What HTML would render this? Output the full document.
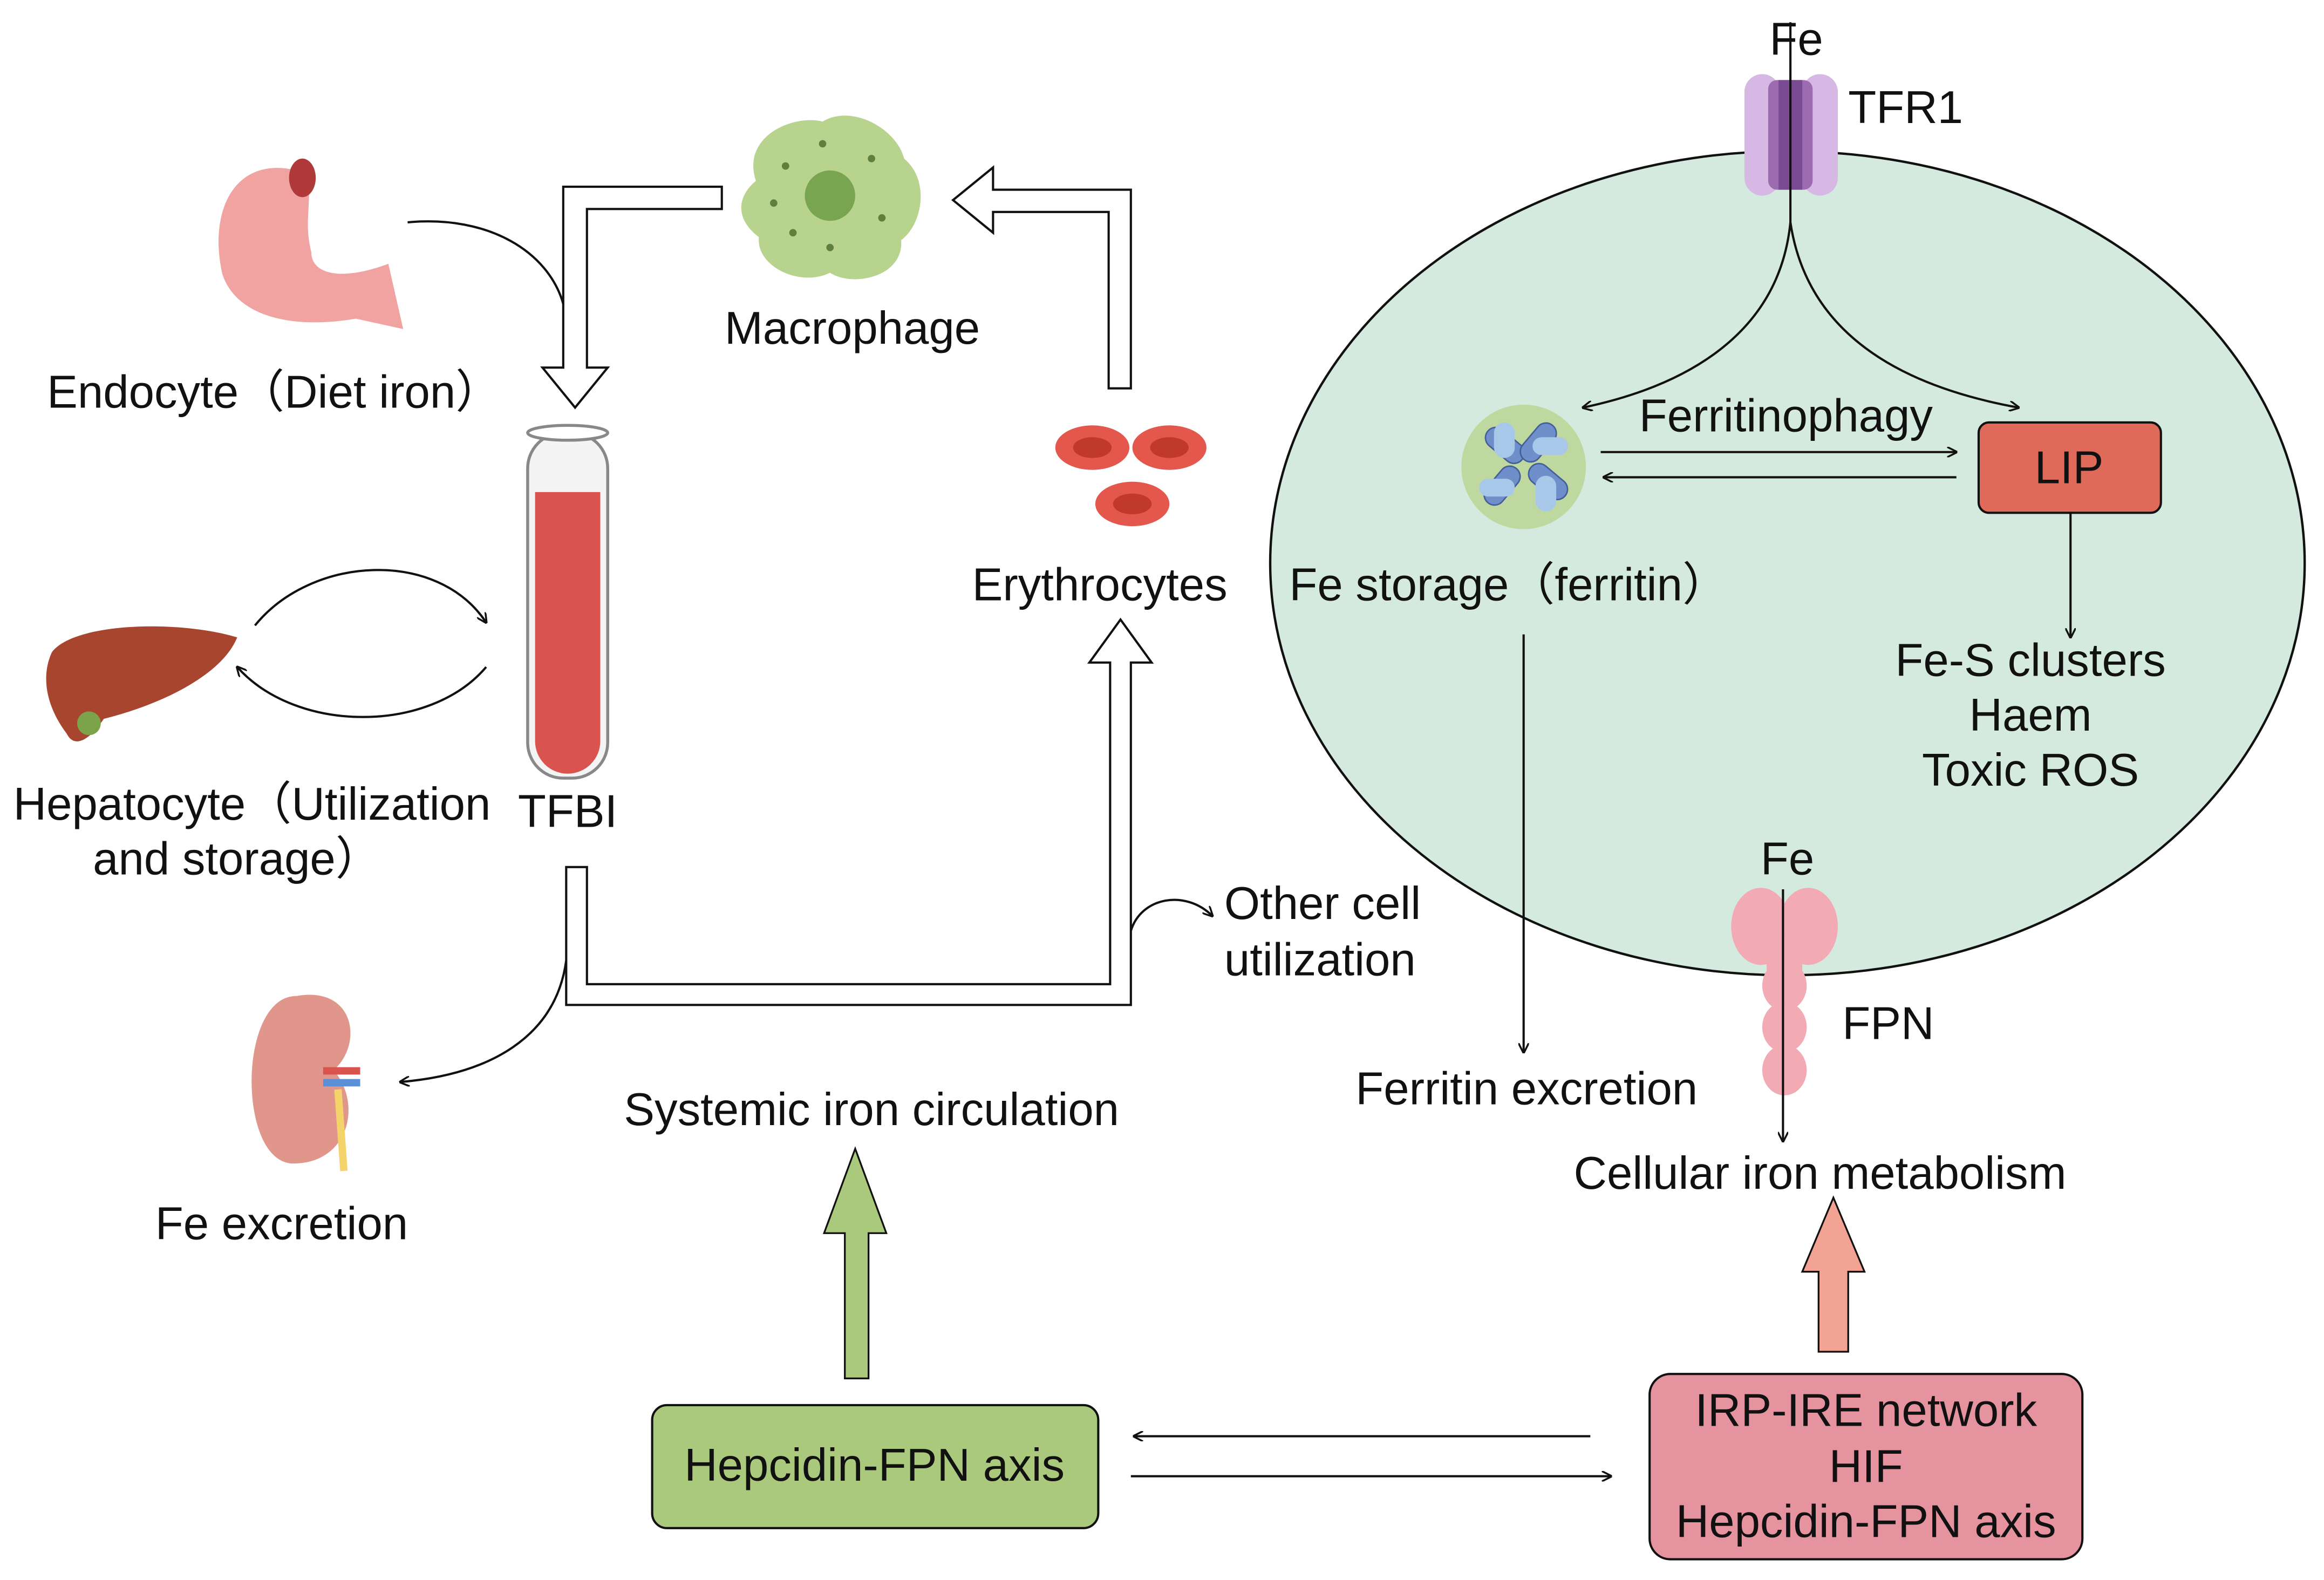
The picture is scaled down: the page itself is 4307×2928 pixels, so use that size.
<!DOCTYPE html>
<html><head><meta charset="utf-8"><style>
html,body{margin:0;padding:0;background:#fff;}
svg{display:block;}
text{font-family:"Liberation Sans","Noto Sans CJK SC",sans-serif;fill:#111;}
</style></head><body>
<svg width="4307" height="2928" viewBox="0 0 1568 1066" xmlns="http://www.w3.org/2000/svg">
<defs>
<marker id="a" viewBox="0 0 10 10" refX="9" refY="5" markerWidth="7" markerHeight="7" orient="auto-start-reverse" markerUnits="userSpaceOnUse">
<path d="M0,0 L10,5 L0,10" fill="none" stroke="#111" stroke-width="1.8"/></marker>
</defs>
<rect width="1568" height="1066" fill="#fff"/>

<ellipse cx="1206" cy="380" rx="349" ry="278" fill="#d5eadf" stroke="#111" stroke-width="1.6"/>

<g>
<rect x="1177" y="50" width="24" height="82" rx="12" fill="#d7b7e3"/>
<rect x="1216" y="50" width="24" height="82" rx="12" fill="#d7b7e3"/>
<rect x="1193" y="54" width="30" height="74" rx="6" fill="#9c6bb0"/>
<rect x="1200" y="54" width="16" height="74" fill="#7a4a92"/>
</g>
<line x1="1208" y1="15" x2="1208" y2="150" stroke="#111" stroke-width="1.5"/>
<text x="1212" y="37" font-size="31" text-anchor="middle">Fe</text>
<text x="1247" y="83" font-size="31">TFR1</text>
<path d="M1208,150 C1200,230 1130,262 1068,275" fill="none" stroke="#111" stroke-width="1.5" marker-end="url(#a)"/>
<path d="M1208,150 C1220,230 1290,262 1362,275" fill="none" stroke="#111" stroke-width="1.5" marker-end="url(#a)"/>

<g transform="translate(1028,315)">
<circle r="42" fill="#b9d38e" opacity="0.8"/>
<g fill="#6e8fc9" stroke="#44609a" stroke-width="1">
<rect x="-34" y="-10" width="30" height="14" rx="7" transform="rotate(40)"/>
<rect x="4" y="-10" width="30" height="14" rx="7" transform="rotate(40)"/>
<rect x="-34" y="-10" width="30" height="14" rx="7" transform="rotate(-50)"/>
<rect x="4" y="-10" width="30" height="14" rx="7" transform="rotate(-50)"/>
</g>
<g fill="#a8c8ea"><rect x="-20" y="-30" width="14" height="24" rx="7"/><rect x="8" y="6" width="14" height="24" rx="7"/><rect x="-30" y="8" width="24" height="12" rx="6"/><rect x="6" y="-20" width="24" height="12" rx="6"/></g>
</g>
<text x="1205" y="291" font-size="31" text-anchor="middle">Ferritinophagy</text>
<line x1="1080" y1="305" x2="1320" y2="305" stroke="#111" stroke-width="1.5" marker-end="url(#a)"/>
<line x1="1320" y1="322" x2="1082" y2="322" stroke="#111" stroke-width="1.5" marker-end="url(#a)"/>
<rect x="1335" y="285" width="123" height="61" rx="7" fill="#e06a5a" stroke="#111" stroke-width="1.5"/>
<text x="1396" y="326" font-size="31" text-anchor="middle">LIP</text>
<line x1="1397" y1="346" x2="1397" y2="430" stroke="#111" stroke-width="1.5" marker-end="url(#a)"/>
<text x="1370" y="456" font-size="31" text-anchor="middle">Fe-S clusters</text>
<text x="1370" y="493" font-size="31" text-anchor="middle">Haem</text>
<text x="1370" y="530" font-size="31" text-anchor="middle">Toxic ROS</text>
<text x="1018" y="405" font-size="31" text-anchor="middle">Fe storage（ferritin）</text>
<line x1="1028" y1="428" x2="1028" y2="710" stroke="#111" stroke-width="1.5" marker-end="url(#a)"/>
<text x="1030" y="745" font-size="31" text-anchor="middle">Ferritin excretion</text>

<g fill="#f2aab5">
<ellipse cx="1188" cy="625" rx="20" ry="26"/><ellipse cx="1220" cy="625" rx="20" ry="26"/>
<rect x="1192" y="630" width="24" height="30" fill="#f2aab5"/>
<ellipse cx="1204" cy="665" rx="15" ry="17"/>
<ellipse cx="1204" cy="693" rx="15" ry="17"/>
<ellipse cx="1204" cy="722" rx="15" ry="17"/>
</g>
<text x="1206" y="590" font-size="31" text-anchor="middle">Fe</text>
<line x1="1203" y1="600" x2="1203" y2="770" stroke="#111" stroke-width="1.5" marker-end="url(#a)"/>
<text x="1243" y="701" font-size="31">FPN</text>
<text x="1228" y="802" font-size="31" text-anchor="middle">Cellular iron metabolism</text>

<path d="M1227,912 L1227,858 L1216,858 L1237,808 L1258,858 L1247,858 L1247,912 Z" fill="#f3a393" stroke="#111" stroke-width="1.2"/>
<rect x="1113" y="927" width="292" height="125" rx="14" fill="#e4939f" stroke="#111" stroke-width="1.5"/>
<text x="1259" y="962" font-size="31" text-anchor="middle">IRP-IRE network</text>
<text x="1259" y="1000" font-size="31" text-anchor="middle">HIF</text>
<text x="1259" y="1037" font-size="31" text-anchor="middle">Hepcidin-FPN axis</text>

<rect x="440" y="948" width="301" height="83" rx="10" fill="#abc97c" stroke="#111" stroke-width="1.5"/>
<text x="590" y="999" font-size="31" text-anchor="middle">Hepcidin-FPN axis</text>
<line x1="1073" y1="969" x2="765" y2="969" stroke="#111" stroke-width="1.5" marker-end="url(#a)"/>
<line x1="763" y1="996" x2="1087" y2="996" stroke="#111" stroke-width="1.5" marker-end="url(#a)"/>
<path d="M570,930 L570,832 L556,832 L577,775 L598,832 L586,832 L586,930 Z" fill="#abc97c" stroke="#111" stroke-width="1.2"/>
<text x="588" y="759" font-size="31" text-anchor="middle">Systemic iron circulation</text>

<path d="M487,126 L380,126 L380,248 L366,248 L388,275 L410,248 L396,248 L396,141 L487,141 Z" fill="#fff" stroke="#111" stroke-width="1.5"/>
<path d="M748,262 L748,143 L670,143 L670,157 L643,135 L670,113 L670,128 L763,128 L763,262 Z" fill="#fff" stroke="#111" stroke-width="1.5"/>
<path d="M382,585 L382,678 L763,678 L763,447 L777,447 L756,418 L735,447 L749,447 L749,664 L396,664 L396,585 Z" fill="#fff" stroke="#111" stroke-width="1.5"/>

<path d="M275,150 C330,145 370,170 380,205" fill="none" stroke="#111" stroke-width="1.5"/>
<path d="M382,648 C375,700 330,725 270,730" fill="none" stroke="#111" stroke-width="1.5" marker-end="url(#a)"/>
<path d="M763,628 C770,605 800,600 818,618" fill="none" stroke="#111" stroke-width="1.5" marker-end="url(#a)"/>
<path d="M172,422 C210,375 295,370 328,420" fill="none" stroke="#111" stroke-width="1.5" marker-end="url(#a)"/>
<path d="M328,450 C290,495 200,495 160,450" fill="none" stroke="#111" stroke-width="1.5" marker-end="url(#a)"/>

<rect x="356" y="292" width="54" height="233" rx="24" fill="#f4f4f4" stroke="#888" stroke-width="2"/>
<ellipse cx="383" cy="292" rx="27" ry="5" fill="#fff" stroke="#888" stroke-width="2"/>
<path d="M361,332 L405,332 L405,500 A22,22 0 0 1 361,500 Z" fill="#d9534f"/>

<g transform="translate(560,132)">
<path d="M-50,-10 C-60,-40 -25,-55 -5,-50 C15,-62 45,-45 50,-25 C68,-10 62,20 48,30 C50,55 15,62 0,52 C-20,62 -50,48 -48,28 C-65,15 -62,0 -50,-10 Z" fill="#b7d38e"/>
<circle r="17" fill="#79a550"/>
<g fill="#5f7f3f"><circle cx="-30" cy="-20" r="2.5"/><circle cx="28" cy="-25" r="2.5"/><circle cx="35" cy="15" r="2.5"/><circle cx="-25" cy="25" r="2.5"/><circle cx="0" cy="35" r="2.5"/><circle cx="-5" cy="-35" r="2.5"/><circle cx="-38" cy="5" r="2.5"/></g>
</g>
<text x="575" y="232" font-size="31" text-anchor="middle">Macrophage</text>

<g fill="#e4574c"><ellipse cx="737" cy="302" rx="25" ry="15"/><ellipse cx="789" cy="302" rx="25" ry="15"/><ellipse cx="764" cy="340" rx="25" ry="15"/></g>
<g fill="#c0392b"><ellipse cx="737" cy="302" rx="13" ry="7"/><ellipse cx="789" cy="302" rx="13" ry="7"/><ellipse cx="764" cy="340" rx="13" ry="7"/></g>
<text x="742" y="405" font-size="31" text-anchor="middle">Erythrocytes</text>
<text x="826" y="620" font-size="31">Other cell</text>
<text x="826" y="658" font-size="31">utilization</text>

<path d="M200,115 C160,105 140,140 150,185 C160,215 200,222 240,215 L272,222 L262,178 C230,190 210,185 210,170 C205,150 210,140 208,120 Z" fill="#f0a3a0"/>
<ellipse cx="204" cy="120" rx="9" ry="13" fill="#b03a3a"/>
<text x="185" y="275" font-size="31" text-anchor="middle">Endocyte（Diet iron）</text>

<path d="M35,440 C50,420 120,418 160,430 C150,455 110,475 70,485 C60,500 50,505 45,495 C30,475 28,455 35,440 Z" fill="#a8452f"/>
<circle cx="60" cy="488" r="8" fill="#7aa34a"/>
<text x="170" y="553" font-size="31" text-anchor="middle">Hepatocyte（Utilization</text>
<text x="160" y="590" font-size="31" text-anchor="middle">and storage）</text>
<text x="383" y="558" font-size="31" text-anchor="middle">TFBI</text>

<path d="M200,672 C240,665 245,705 225,722 C245,745 235,785 198,785 C160,785 160,672 200,672 Z" fill="#e0968b"/>
<rect x="218" y="720" width="25" height="5" fill="#d9534f"/><rect x="218" y="728" width="25" height="5" fill="#5b8fd6"/>
<path d="M228,735 L232,790" stroke="#f5d36b" stroke-width="5"/>
<text x="190" y="836" font-size="31" text-anchor="middle">Fe excretion</text>
</svg>
</body></html>
